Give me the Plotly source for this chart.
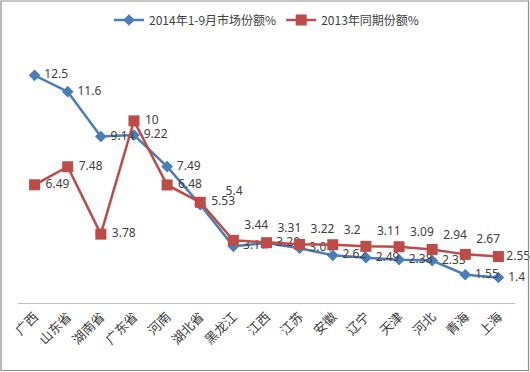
import plotly.graph_objects as go

categories = ["广西", "山东省", "湖南省", "广东省", "河南", "湖北省", "黑龙江", "江西",
              "江苏", "安徽", "辽宁", "天津", "河北", "青海", "上海"]
share_2014 = [12.5, 11.6, 9.14, 9.22, 7.49, 5.4, 3.11, 3.29, 3.01, 2.62, 2.49, 2.38, 2.33, 1.55, 1.4]
share_2013 = [6.49, 7.48, 3.78, 10, 6.48, 5.53, 3.44, 3.31, 3.22, 3.2, 3.11, 3.09, 2.94, 2.67, 2.55]
name_2014 = "2014年1-9月市场份额%"
name_2013 = "2013年同期份额%"

W, H = 530, 372
ml, mr, mt, mb = 18, 15, 48, 69

# label placement (style only)
pos_2014 = ["middle right"] * 15
pos_2014[5] = "top right"
pad_2014 = [" "] * 15
pad_2014[5] = "      "
pos_2013 = ["middle right"] * 6 + ["top right"] * 8 + ["middle right"]
pad_2013 = [" "] * 15
pad_2013[14] = ""

font_lbl = dict(family="Noto Sans, DejaVu Sans", size=12, color="#404040")

fig = go.Figure()
fig.add_trace(go.Scatter(
    x=categories, y=share_2014, name=name_2014, mode="lines+markers+text",
    line=dict(color="#4A7EBB", width=2.5),
    marker=dict(symbol="diamond", size=9, color="#4A7EBB"),
    text=[p + str(v) for p, v in zip(pad_2014, share_2014)], textposition=pos_2014,
    textfont=font_lbl, cliponaxis=False))
fig.add_trace(go.Scatter(
    x=categories, y=share_2013, name=name_2013, mode="lines+markers+text",
    line=dict(color="#BE4B48", width=2.5),
    marker=dict(symbol="square", size=11, color="#BE4B48"),
    text=[p + str(v) for p, v in zip(pad_2013, share_2013)], textposition=pos_2013,
    textfont=font_lbl, cliponaxis=False))

pw = W - ml - mr
ph = H - mt - mb
fig.add_shape(type="rect", xref="paper", yref="paper",
              x0=-(ml - 1) / pw, x1=1 + (mr - 1.5) / pw,
              y0=-(mb - 1.5) / ph, y1=1 + (mt - 1) / ph,
              line=dict(color="#8C8C8C", width=1.2), fillcolor="rgba(0,0,0,0)")

fig.update_layout(
    width=W, height=H, margin=dict(l=ml, r=mr, t=mt, b=mb, autoexpand=False),
    paper_bgcolor="white", plot_bgcolor="white",
    showlegend=True,
    legend=dict(orientation="h", x=0.5, xanchor="center", y=1 + (mt - 20) / ph, yanchor="middle",
                font=dict(family="Noto Sans CJK SC", size=12, color="#404040"),
                itemwidth=30, bgcolor="rgba(0,0,0,0)"),
    xaxis=dict(range=[-0.5, len(categories) - 0.5], showgrid=False, showline=True,
               linecolor="#BFBFBF", linewidth=1,
               ticks="", tickangle=-45, automargin=False,
               tickfont=dict(family="Noto Sans CJK SC", size=13, color="#404040")),
    yaxis=dict(range=[0, 14], showgrid=False, showline=False, showticklabels=False,
               zeroline=False, ticks="", automargin=False),
)

fig.write_html("out.html", config={"displayModeBar": False},
               post_script="document.body.style.margin='0';document.body.style.overflow='hidden';")
